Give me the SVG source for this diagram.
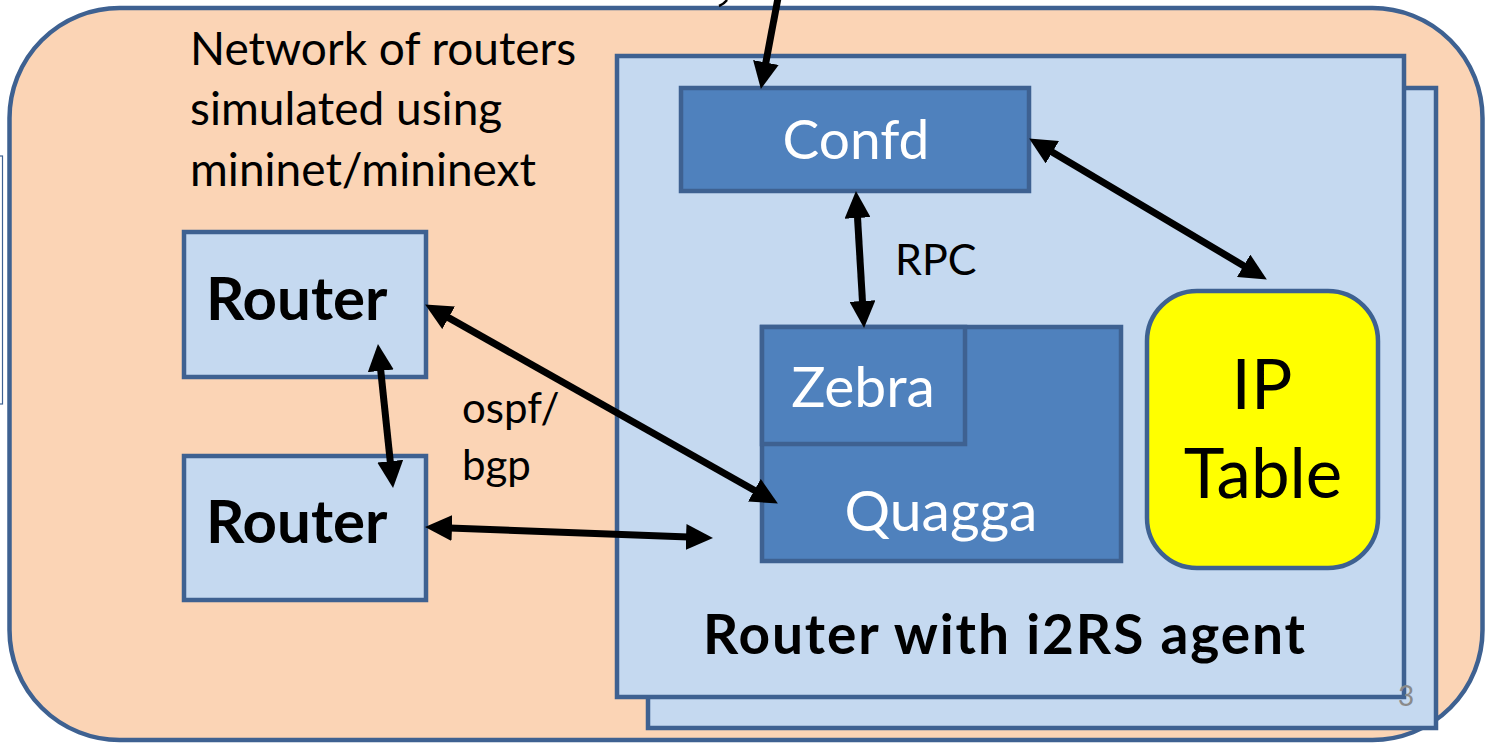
<svg xmlns="http://www.w3.org/2000/svg" width="1490" height="743" viewBox="0 0 1490 743">
<style>
.box{stroke:#3E6191;stroke-width:4.5}
.lb{fill:#C5D9F0}
.db{fill:#4F81BD}
.t{font-family:Lato,"Open Sans",sans-serif;fill:#000}
.w{fill:#fff}
.b{font-weight:bold}
.conn{stroke:#000;stroke-width:7;fill:none}
</style>
<defs>
<marker id="ah" markerUnits="userSpaceOnUse" markerWidth="28" markerHeight="26" viewBox="0 0 28 26" refX="16" refY="13" orient="auto-start-reverse">
<path d="M0,0 L27,13 L0,26 z" fill="#000"/>
</marker>
</defs>
<rect x="-10" y="156" width="12.5" height="248" fill="#fff" stroke="#3E6191" stroke-width="1.2"/>
<g id="network">
<rect x="9.5" y="8" width="1473" height="732" rx="110" ry="110" fill="#FBD4B5" stroke="#3E6191" stroke-width="4.5"/>
<text class="t" font-size="46" x="190" y="65">Network of routers</text>
<text class="t" font-size="46" x="190" y="125">simulated using</text>
<text class="t" font-size="46" x="190" y="186">mininet/mininext</text>
</g>
<g id="router1">
<rect class="box lb" x="184" y="232" width="242" height="145"/>
<text class="t b" font-size="60" x="206" y="320">Router</text>
</g>
<g id="router2">
<rect class="box lb" x="184" y="456" width="242" height="144"/>
<text class="t b" font-size="60" x="206" y="543">Router</text>
</g>
<g id="i2rs-router-back">
<rect class="box lb" x="648" y="88" width="788" height="640"/>
</g>
<g id="i2rs-router">
<rect class="box lb" x="617" y="56" width="787" height="641"/>
<text class="t b" font-size="55" x="703" y="654" textLength="602" lengthAdjust="spacing">Router with i2RS agent</text>
</g>
<g id="confd">
<rect class="box db" x="681" y="88" width="348" height="103"/>
<text class="t w" font-size="55" x="856" y="159" text-anchor="middle">Confd</text>
</g>
<g id="quagga">
<rect class="box db" x="762" y="327" width="359" height="234"/>
<text class="t w" font-size="57" x="941" y="531" text-anchor="middle">Quagga</text>
</g>
<g id="zebra">
<rect class="box db" x="762" y="327" width="203" height="117"/>
<text class="t w" font-size="57" x="863" y="407" text-anchor="middle">Zebra</text>
</g>
<g id="iptable">
<rect x="1147" y="291" width="231" height="277" rx="50" ry="50" fill="#FFFF00" stroke="#3E6191" stroke-width="4.5"/>
<text class="t" font-size="69" x="1262" y="409" text-anchor="middle">IP</text>
<text class="t" font-size="69" x="1263" y="498" text-anchor="middle">Table</text>
</g>
<g id="labels">
<text class="t" font-size="43" x="895" y="275">RPC</text>
<text class="t" font-size="42" x="462" y="423">ospf/</text>
<text class="t" font-size="42" x="462" y="480">bgp</text>
</g>
<g id="connectors">
<line class="conn" x1="778" y1="-2" x2="762.9" y2="78.2" marker-end="url(#ah)"/>
<line class="conn" x1="1038.6" y1="144.1" x2="1257.4" y2="273.9" marker-start="url(#ah)" marker-end="url(#ah)"/>
<line class="conn" x1="856.6" y1="202" x2="863.4" y2="317" marker-start="url(#ah)" marker-end="url(#ah)"/>
<line class="conn" x1="379.1" y1="354.9" x2="391.9" y2="477.1" marker-start="url(#ah)" marker-end="url(#ah)"/>
<line class="conn" x1="434.7" y1="309.9" x2="768.3" y2="498.1" marker-start="url(#ah)" marker-end="url(#ah)"/>
<line class="conn" x1="436" y1="527.4" x2="702" y2="537.6" marker-start="url(#ah)" marker-end="url(#ah)"/>
<path d="M727,0 Q724,4 719,6" stroke="#000" stroke-width="2.5" fill="none"/>
</g>
<text x="1406" y="706" font-family="Lato,'Open Sans',sans-serif" font-size="28" fill="#8A8A8A" text-anchor="middle">3</text>
</svg>
